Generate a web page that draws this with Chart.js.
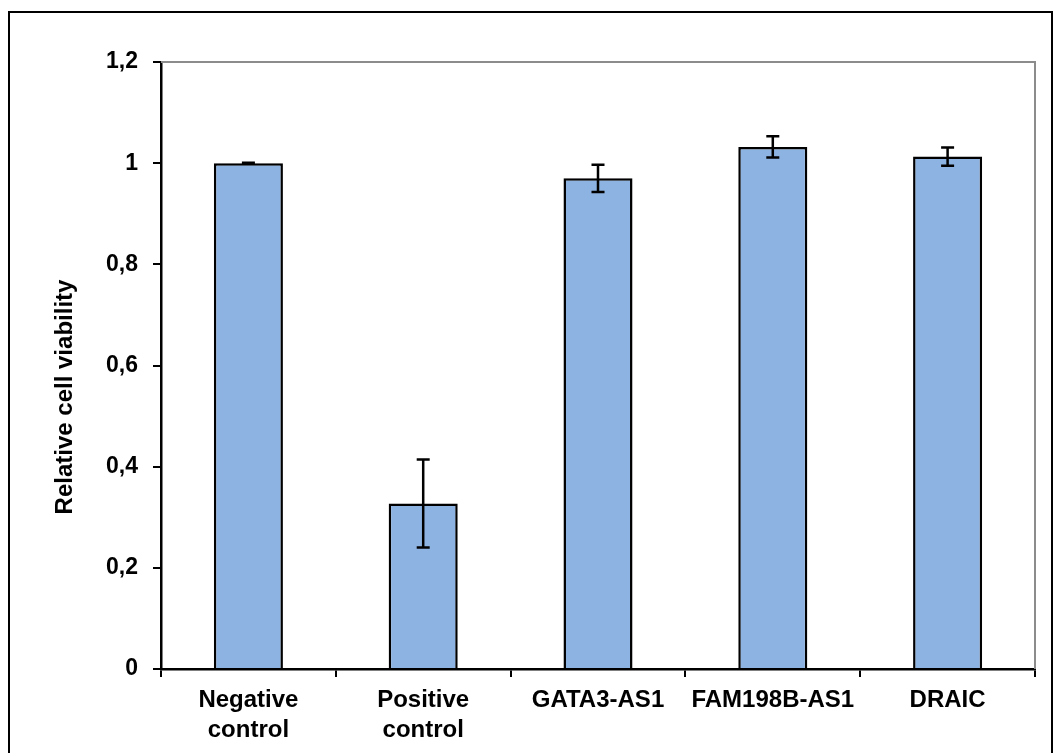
<!DOCTYPE html>
<html>
<head>
<meta charset="utf-8">
<title>Relative cell viability</title>
<script src="https://cdn.jsdelivr.net/npm/chart.js@4/dist/chart.umd.min.js"></script>
<style>
  html, body { margin: 0; padding: 0; background: #fff; }
  #wrap { width: 1054px; height: 753px; }
</style>
</head>
<body>
<div id="wrap"><canvas id="chart" width="1054" height="753"></canvas></div>
<script>
// values
const categories = [['Negative', 'control'], ['Positive', 'control'], 'GATA3-AS1', 'FAM198B-AS1', 'DRAIC'];
const viability = [1.0, 0.327, 0.97, 1.032, 1.013];
const viabilityErr = [0.001, 0.087, 0.027, 0.021, 0.018];
const yTicks = [0, 0.2, 0.4, 0.6, 0.8, 1, 1.2];

const FONT = '"Liberation Sans", Arial, sans-serif';

// error bars, drawn through the chart's own scales
const errorBars = {
  id: 'errorBars',
  afterDatasetsDraw(chart) {
    const { ctx, scales: { y } } = chart;
    const meta = chart.getDatasetMeta(0);
    ctx.save();
    ctx.strokeStyle = '#000';
    ctx.lineWidth = 2.5;
    meta.data.forEach((bar, i) => {
      const v = viability[i];
      const e = viabilityErr[i];
      const top = y.getPixelForValue(v + e);
      const bot = y.getPixelForValue(v - e);
      const cap = 6.5;
      ctx.beginPath();
      ctx.moveTo(bar.x, top);
      ctx.lineTo(bar.x, bot);
      ctx.moveTo(bar.x - cap, top);
      ctx.lineTo(bar.x + cap, top);
      ctx.moveTo(bar.x - cap, bot);
      ctx.lineTo(bar.x + cap, bot);
      ctx.stroke();
    });
    ctx.restore();
  }
};

// gray top/right edge of the plot, outer frame and the axis title
const frame = {
  id: 'frame',
  beforeDatasetsDraw(chart) {
    const { ctx, chartArea: a } = chart;
    ctx.save();
    ctx.strokeStyle = '#8c8c8c';
    ctx.lineWidth = 2;
    ctx.beginPath();
    ctx.moveTo(a.left, a.top);
    ctx.lineTo(a.right, a.top);
    ctx.lineTo(a.right, a.bottom);
    ctx.stroke();
    ctx.restore();
  },
  afterDraw(chart) {
    const { ctx } = chart;
    ctx.save();
    ctx.strokeStyle = '#000';
    ctx.lineWidth = 2;
    ctx.strokeRect(9, 12, 1043, 760);

    ctx.translate(65, 397);
    ctx.rotate(-Math.PI / 2);
    ctx.fillStyle = '#000';
    ctx.font = 'bold 24px ' + FONT;
    ctx.textAlign = 'center';
    ctx.textBaseline = 'middle';
    ctx.fillText('Relative cell viability', 0, 0);
    ctx.restore();
  }
};

new Chart(document.getElementById('chart'), {
  type: 'bar',
  data: {
    labels: categories,
    datasets: [{
      data: viability,
      backgroundColor: '#8db3e2',
      borderColor: '#000',
      borderWidth: 2.5,
      barPercentage: 0.395,
      categoryPercentage: 1
    }]
  },
  options: {
    responsive: false,
    animation: false,
    layout: { padding: { top: 62, right: 19, left: 0, bottom: 0 } },
    plugins: {
      legend: { display: false },
      tooltip: { enabled: false }
    },
    scales: {
      x: {
        afterFit(scale) { scale.height = 84; },
        grid: {
          offset: true,
          drawOnChartArea: false,
          tickLength: 8,
          color: '#000',
          lineWidth: 2
        },
        border: { color: '#000', width: 2.5 },
        ticks: {
          color: '#000',
          padding: 9,
          maxRotation: 0,
          autoSkip: false,
          font: { family: FONT, size: 24, weight: 'bold', lineHeight: 1.22 }
        }
      },
      y: {
        min: 0,
        max: 1.2,
        afterFit(scale) { scale.width = 161; },
        afterBuildTicks(scale) { scale.ticks = yTicks.map(v => ({ value: v })); },
        grid: {
          drawOnChartArea: false,
          tickLength: 8,
          color: '#000',
          lineWidth: 2
        },
        border: { color: '#000', width: 2.5 },
        ticks: {
          color: '#000',
          padding: 15,
          font: { family: FONT, size: 23, weight: 'bold' },
          callback: (value) => String(Number(value.toFixed(1))).replace('.', ',')
        }
      }
    }
  },
  plugins: [errorBars, frame]
});
</script>
</body>
</html>
